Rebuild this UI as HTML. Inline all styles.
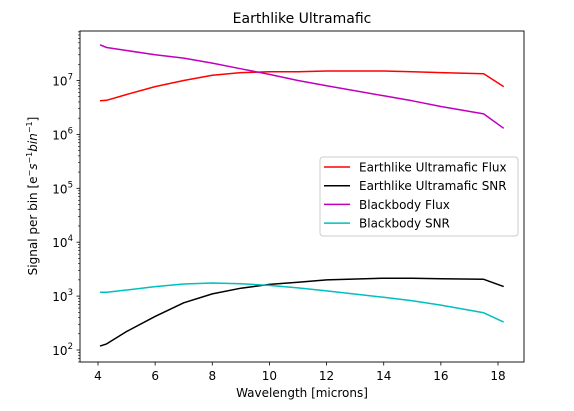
<!DOCTYPE html>
<html><head><meta charset="utf-8"><style>
body{margin:0;background:#fff;}
svg text{font-family:"DejaVu Sans","Liberation Sans",sans-serif;fill:#000;}
</style></head><body>
<svg width="574" height="406" viewBox="0 0 574 406">
<g id="ticks"></g>
<g id="lines"></g>
<rect x="80" y="31" width="444" height="331" fill="none" stroke="#000" stroke-width="0.9"/>
<text x="302" y="23" text-anchor="middle" font-size="14">Earthlike Ultramafic</text>
<text x="302" y="397" text-anchor="middle" font-size="12">Wavelength [microns]</text>
<text transform="translate(37,196) rotate(-90)" text-anchor="middle" font-size="12">Signal per bin [e<tspan font-size="8" dy="-5">−</tspan><tspan dy="5" font-style="italic">s</tspan><tspan font-size="8" dy="-5">−1</tspan><tspan dy="5" font-style="italic">bin</tspan><tspan font-size="8" dy="-5">−1</tspan><tspan dy="5">]</tspan></text>
<g>
<rect x="320" y="157" width="198" height="79" rx="3" fill="#fff" fill-opacity="0.8" stroke="#ccc"/>
<g id="legend-items"></g>
</g>
</svg>
<script>
const wl = [4.07,4.3,5,6,7,8,9,10,11,12,14,15,16,17.5,18.2];
const earthFlux = [4.2e6,4.3e6,5.5e6,7.7e6,1.0e7,1.25e7,1.4e7,1.45e7,1.45e7,1.5e7,1.5e7,1.45e7,1.4e7,1.33e7,7.7e6];
const earthSNR = [118,130,220,420,750,1100,1400,1650,1800,2000,2150,2150,2100,2050,1500];
const bbFlux = [4.6e7,4.1e7,3.6e7,3.0e7,2.6e7,2.1e7,1.65e7,1.3e7,1.0e7,8.0e6,5.2e6,4.2e6,3.3e6,2.4e6,1.3e6];
const bbSNR = [1180,1180,1300,1500,1680,1750,1700,1580,1420,1250,950,820,680,490,330];
const seriesNames = ["Earthlike Ultramafic Flux","Earthlike Ultramafic SNR","Blackbody Flux","Blackbody SNR"];
const xTicks = [4,6,8,10,12,14,16,18];
const yExps = [2,3,4,5,6,7];

const NS="http://www.w3.org/2000/svg";
function X(v){return 98+(v-4)*(400/14);}
function Y(v){return 350-(Math.log10(v)-2)*53.9;}
function mk(tag,attrs,parent){const e=document.createElementNS(NS,tag);for(const k in attrs)e.setAttribute(k,attrs[k]);parent.appendChild(e);return e;}
const tg=document.getElementById('ticks');
xTicks.forEach(t=>{
  const l=mk('line',{x1:X(t),x2:X(t),y1:362,y2:365.5,stroke:'#000','stroke-width':0.8},tg);
  
  
  const tx=mk('text',{x:X(t),y:380,'text-anchor':'middle','font-size':12},tg);
  tx.textContent=t;
  
  
});
for(let e=1;e<=7;e++){
  for(let m=1;m<10;m++){
    const v=m*Math.pow(10,e), y=Y(v);
    if(y<31||y>362)continue;
    const l=mk('line',{x1:80,x2:m==1?76.5:78,y1:y,y2:y,stroke:'#000','stroke-width':m==1?0.8:0.6},tg);
    
    
  }
}
yExps.forEach(e=>{
  const tx=mk('text',{x:73,y:Y(Math.pow(10,e))+5,'text-anchor':'end','font-size':12},tg);
  tx.innerHTML='10<tspan font-size="8.5" dy="-6">'+e+'</tspan>';
  
  
});
const lg=document.getElementById('lines');
const data=[earthFlux,earthSNR,bbFlux,bbSNR];
const colors=['#ff0000','#000000','#bf00bf','#00bfbf'];
const names=['earth-flux-line','earth-snr-line','blackbody-flux-line','blackbody-snr-line'];
data.forEach((s,i)=>{
  const p=mk('polyline',{points:s.map((v,j)=>X(wl[j]).toFixed(1)+','+Y(v).toFixed(1)).join(' '),fill:'none',stroke:colors[i],'stroke-width':1.5,'stroke-linejoin':'round'},lg);
  
  
});
const li=document.getElementById('legend-items');
seriesNames.forEach((n,i)=>{
  const y=167+i*18.7;
  const l=mk('line',{x1:324,x2:350,y1:y,y2:y,stroke:colors[i],'stroke-width':1.5},li);
  
  
  const t=mk('text',{x:359,y:y+4.5,'font-size':12},li);
  t.textContent=n;
  
  
});
</script>
</body></html>
